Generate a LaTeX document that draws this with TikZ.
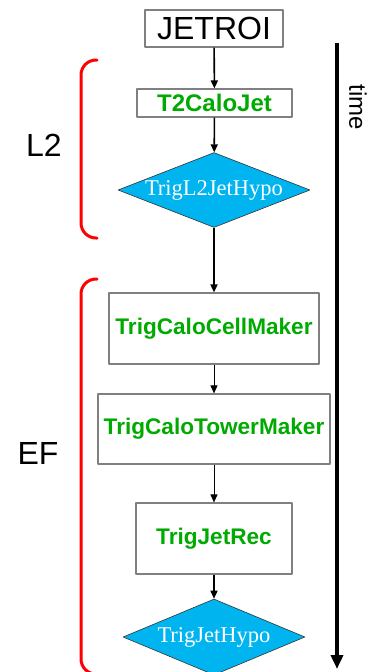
\documentclass[tikz,border=0pt]{standalone}
\usepackage{fontspec}
\setmainfont{Liberation Sans}
\newfontfamily\timesfont{Liberation Serif}
\usetikzlibrary{shapes.geometric,arrows.meta}
\definecolor{boxgray}{RGB}{128,128,128}
\definecolor{alggreen}{RGB}{0,170,0}
\definecolor{hypocyan}{RGB}{0,180,240}
\begin{document}
\begin{tikzpicture}[x=1pt,y=-1pt,line join=round,>={Triangle[length=8pt,width=7pt]}]
	\tikzset{alg/.style={draw=boxgray,line width=1.2pt,inner sep=0pt,font=\fontsize{22.6}{24}\selectfont\bfseries,text=alggreen},
		hypo/.style={diamond,draw=black!80,line width=0.6pt,fill=hypocyan,aspect=2.5,inner sep=0pt,text=white,font=\timesfont\fontsize{22.5}{24}\selectfont},
		flow/.style={->,line width=1.6pt},
		flowthin/.style={->,line width=0.9pt},
		bracket/.style={red,line width=3pt,rounded corners=15pt,line cap=round},
		level/.style={font=\fontsize{32}{34}\selectfont}}
	\useasboundingbox (0,0) rectangle (367,672);
	% chain of algorithms
	\node[draw=boxgray,line width=1.2pt,minimum width=138pt,minimum height=37pt,inner sep=0pt,font=\fontsize{32}{34}\selectfont] (roi) at (214,28.5) {JETROI};
	\node[alg,minimum width=155pt,minimum height=28pt,font=\fontsize{24}{26}\selectfont\bfseries] (t2calo) at (214.5,103) {T2CaloJet};
	\node[hypo,minimum width=192pt,minimum height=74pt] (l2hypo) at (214,190) {TrigL2JetHypo};
	\node[alg,minimum width=210pt,minimum height=71pt] (cell) at (214,328.5) {TrigCaloCellMaker};
	\node[alg,minimum width=232pt,minimum height=70pt] (tower) at (214,429) {TrigCaloTowerMaker};
	\node[alg,minimum width=156pt,minimum height=71pt] (jetrec) at (214,538.5) {TrigJetRec};
	\node[hypo,minimum width=182pt,minimum height=76pt] (efhypo) at (214,637) {TrigJetHypo};
	\draw[flow] (roi) -- (t2calo);
	\draw[flow] (t2calo) -- (l2hypo);
	\draw[flow] (l2hypo) -- (cell);
	\draw[flowthin] (cell) -- (tower);
	\draw[flowthin] (tower) -- (jetrec);
	\draw[flow] (jetrec) -- (efhypo);
	% time axis
	\coordinate (tstart) at (337,43);
	\coordinate (tend) at (337,669);
	\draw[-{Triangle[length=14pt,width=12pt]},line width=3.5pt] (tstart) -- (tend);
	\node[rotate=-90,font=\fontsize{24}{26}\selectfont] (time) at (358,107) {time};
	% trigger levels
	\draw[bracket] (97,60) -- (81,60) -- (81,238) -- (97,238);
	\draw[bracket] (97,279) -- (81,279) -- (81,674) -- (97,674);
	\node[level] (l2) at (44,145) {L2};
	\node[level] (ef) at (38,453) {EF};
\end{tikzpicture}
\end{document}
